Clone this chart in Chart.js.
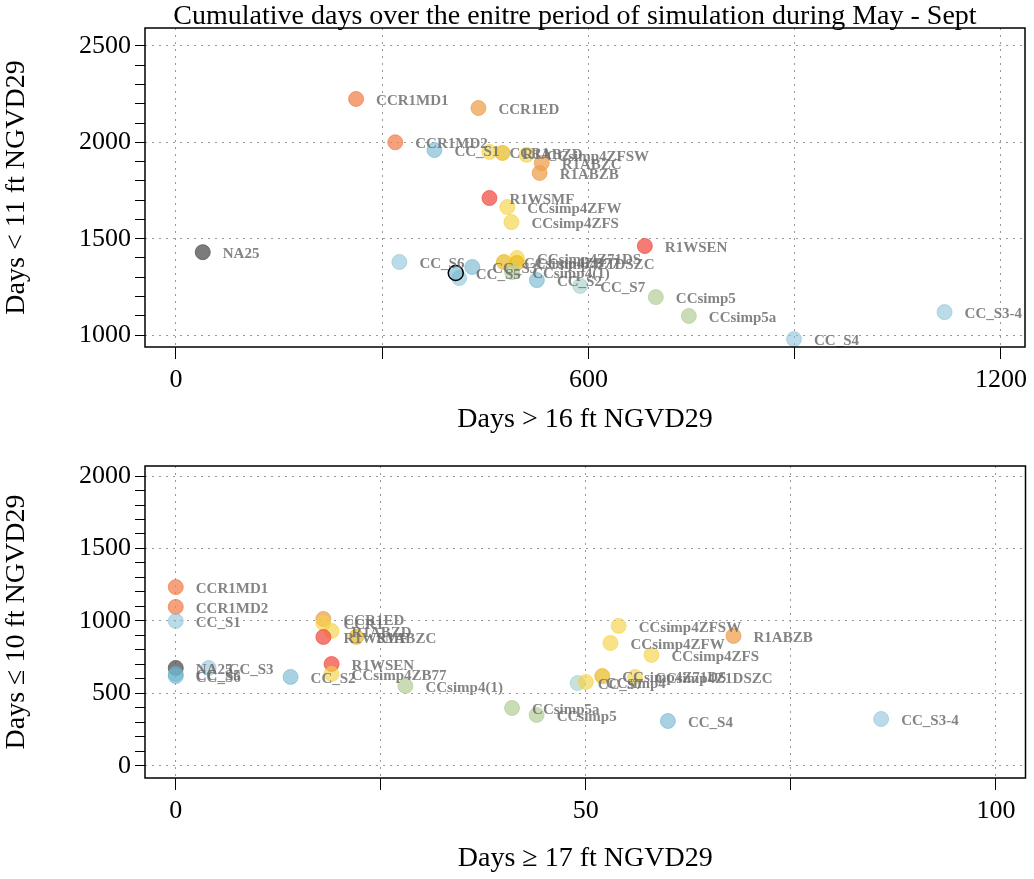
<!DOCTYPE html>
<html><head>
<script src="https://cdn.jsdelivr.net/npm/chart.js@4"></script>
<style>body{margin:0;background:#fff}canvas{display:block}</style>
</head><body>
<canvas id="top" width="1034" height="440"></canvas>
<canvas id="bot" width="1034" height="439"></canvas>
<script>
const C = {
    orange: "rgba(238,160,80,0.75)",
    coral: "rgba(240,130,80,0.75)",
    red: "rgba(240,80,70,0.75)",
    blue: "rgba(110,180,205,0.6)",
    lblue: "rgba(140,195,215,0.6)",
    teal: "rgba(160,205,200,0.6)",
    yellow: "rgba(245,210,70,0.65)",
    gold: "rgba(232,185,30,0.7)",
    sage: "rgba(180,205,150,0.7)",
    gray: "rgba(90,90,90,0.8)",
};

// top panel: Days > 16 ft vs Days < 11 ft
const topX = [39, 262, 440, 319, 376, 456, 475, 510, 532, 529, 456, 482, 488, 682, 325, 431, 412, 407, 477, 496, 496, 489, 525, 588, 698, 746, 899, 1118];
const topY = [1430, 2225, 2178, 2000, 1960, 1950, 1945, 1935, 1893, 1841, 1711, 1664, 1586, 1462, 1379, 1353, 1296, 1322, 1379, 1400, 1374, 1327, 1285, 1255, 1197, 1099, 979, 1119];
const topCol = ["gray", "coral", "orange", "coral", "blue", "yellow", "gold", "yellow", "orange", "orange",
    "red", "yellow", "yellow", "red", "lblue", "blue", "lblue", "blue", "gold", "yellow",
    "gold", "sage", "blue", "teal", "sage", "sage", "lblue", "lblue"];
const topLbl = ["NA25", "CCR1MD1", "CCR1ED", "CCR1MD2", "CC_S1", "CCR1", "R1ABZD", "CCsimp4ZFSW", "R1ABZC", "R1ABZB",
    "R1WSMF", "CCsimp4ZFW", "CCsimp4ZFS", "R1WSEN", "CC_S6", "CC_S3", "", "CC_S5", "CCsimp4ZB77", "CCsimp4Z71DS",
    "CCsimp4Z1DSZC", "CCsimp4(1)", "CC_S2", "CC_S7", "CCsimp5", "CCsimp5a", "CC_S4", "CC_S3-4"];

// bottom panel: Days >= 17 ft vs Days <= 10 ft
const botLbl = ["CCR1MD1", "CCR1MD2", "CC_S1", "NA25", "CC_S5", "CC_S6", "CC_S3", "CC_S2", "CCR1ED", "CCR1",
    "R1ABZD", "R1WSMF", "R1ABZC", "R1WSEN", "CCsimp4ZB77", "CCsimp4(1)", "CCsimp5a", "CCsimp5", "CC_S7", "CCsimp4",
    "CCsimp4Z71DS", "CCsimp4Z1DSZC", "CCsimp4ZFSW", "CCsimp4ZFW", "CCsimp4ZFS", "R1ABZB", "CC_S4", "CC_S3-4"];
const botX = [0, 0, 0, 0, 0, 0, 4, 14, 18, 18, 19, 18, 22, 19, 19, 28, 41, 44, 49, 50, 52, 56, 54, 53, 58, 68, 60, 86];
const botY = [1234, 1097, 1000, 676, 634, 620, 676, 614, 1014, 986, 931, 890, 890, 703, 634, 552, 400, 352, 572, 579, 620, 614, 966, 848, 766, 897, 310, 324];
const botCol = ["coral", "coral", "lblue", "gray", "blue", "blue", "lblue", "blue", "orange", "yellow",
    "yellow", "red", "gold", "red", "yellow", "sage", "sage", "sage", "teal", "yellow",
    "gold", "yellow", "yellow", "yellow", "yellow", "orange", "blue", "lblue"];

const labelPlugin = {
    id: "labels",
    afterDatasetsDraw(chart, args, opts) {
        const ctx = chart.ctx;
        const meta = chart.getDatasetMeta(0);
        ctx.save();
        ctx.font = "bold 15px 'Liberation Serif'";
        ctx.fillStyle = "rgba(110,110,110,0.85)";
        ctx.textBaseline = "middle";
        meta.data.forEach((pt, i) => {
            if (opts.text[i]) ctx.fillText(opts.text[i], pt.x + 20, pt.y + 2);
        });
        if (opts.title) {
            ctx.fillStyle = "#000";
            ctx.font = "28px 'Liberation Serif'";
            ctx.textAlign = "center";
            ctx.textBaseline = "alphabetic";
            ctx.fillText(opts.title, 575, 24);
        }
        const a = chart.chartArea;
        ctx.strokeStyle = "#000";
        ctx.lineWidth = 1.5;
        ctx.strokeRect(a.left, a.top, a.right - a.left, a.bottom - a.top);
        ctx.restore();
    },
};

function makeChart(id, xs, ys, cols, lbls, o) {
    const tickFont = { family: "Liberation Serif", size: 26 };
    const titleFont = { family: "Liberation Serif", size: 28 };
    return new Chart(document.getElementById(id), {
        type: "scatter",
        data: {
            datasets: [{
                data: xs.map((x, i) => ({ x: x, y: ys[i] })),
                backgroundColor: cols.map((c) => C[c]),
                borderColor: cols.map((c, i) => (o.outline === i ? "#000" : C[c])),
                borderWidth: cols.map((c, i) => (o.outline === i ? 1.5 : 1)),
                pointRadius: 7.5,
            }],
        },
        options: {
            responsive: false,
            animation: false,
            layout: { padding: { top: o.padTop, right: 2 } },
            plugins: {
                legend: { display: false },
                tooltip: { enabled: false },
                labels: { text: lbls, title: o.title },
            },
            scales: {
                x: {
                    min: o.xmin, max: o.xmax,
                    afterBuildTicks: (s) => { s.ticks = o.xticks.map((v) => ({ value: v })); },
                    afterFit: (s) => { s.height = o.xh; },
                    ticks: {
                        font: tickFont, color: "#000", padding: 6, autoSkip: false, maxRotation: 0,
                        callback: (v) => (o.xlab.includes(v) ? v : ""),
                    },
                    grid: {
                        color: (c) => (c.tick && o.xgrid.includes(c.tick.value) ? "#999" : "transparent"),
                        tickColor: "#000", tickLength: 12,
                    },
                    border: { display: false, dash: [2, 5] },
                    title: { display: true, text: o.xtitle, font: titleFont, color: "#000", padding: { top: 4 } },
                },
                y: {
                    min: o.ymin, max: o.ymax,
                    afterBuildTicks: (s) => { s.ticks = o.yticks.map((v) => ({ value: v })); },
                    afterFit: (s) => { s.width = 145; },
                    ticks: {
                        font: tickFont, color: "#000", padding: 4, autoSkip: false,
                        callback: (v) => (v % 500 === 0 ? v : ""),
                    },
                    grid: {
                        color: (c) => (c.tick && c.tick.value % 500 === 0 ? "#999" : "transparent"),
                        tickColor: "#000", tickLength: 10,
                    },
                    border: { display: false, dash: [2, 5] },
                    title: { display: true, text: o.ytitle, font: titleFont, color: "#000", padding: { top: 0, bottom: 2 } },
                },
            },
        },
        plugins: [labelPlugin],
    });
}

const range = (a, b, s) => { const r = []; for (let v = a; v <= b; v += s) r.push(v); return r; };

makeChart("top", topX, topY, topCol, topLbl, {
    title: "Cumulative days over the enitre period of simulation during May - Sept",
    padTop: 28, xmin: -45, xmax: 1235, ymin: 938, ymax: 2593, xh: 93, outline: 17,
    xticks: [0, 300, 600, 900, 1200], xlab: [0, 600, 1200], xgrid: [0, 300, 600, 900, 1200],
    yticks: range(1000, 2500, 100),
    xtitle: "Days > 16 ft NGVD29", ytitle: "Days < 11 ft NGVD29",
});
makeChart("bot", botX, botY, botCol, botLbl, {
    padTop: 26, xmin: -3.75, xmax: 103.6, ymin: -83, ymax: 2069, xh: 101,
    xticks: [0, 25, 50, 75, 100], xlab: [0, 50, 100], xgrid: [0, 25, 50, 75, 100],
    yticks: range(0, 2000, 100),
    xtitle: "Days \u2265 17 ft NGVD29", ytitle: "Days \u2264 10 ft NGVD29",
});
</script>
</body></html>
